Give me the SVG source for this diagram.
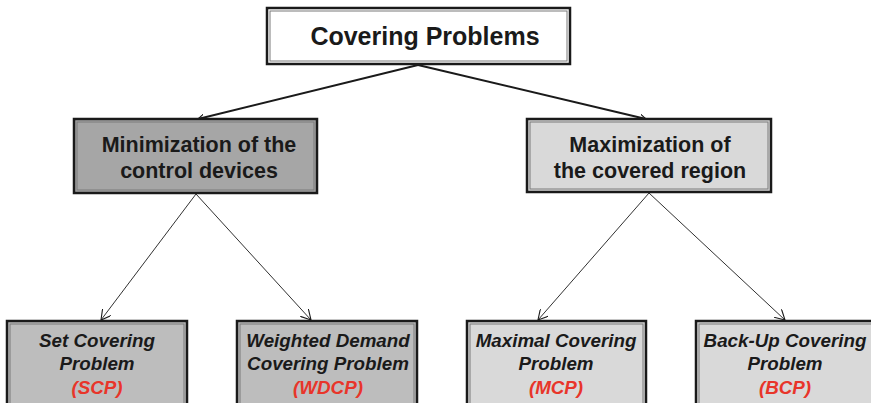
<svg xmlns="http://www.w3.org/2000/svg" width="871" height="403" viewBox="0 0 871 403">
<defs>
<style>
.outer{stroke:#1a1a1a;stroke-width:2.5}
.inner{fill:none;stroke:#7a7a7a;stroke-width:1}
.t{font-family:"Liberation Sans",Arial,sans-serif;font-weight:bold;fill:#1a1a1a;text-anchor:middle}
.h{font-size:25px}
.m{font-size:21.5px}
.s{font-size:18.8px;font-style:italic}
.r{fill:#e8352a}
.thick{stroke:#1a1a1a;stroke-width:2;fill:none}
.thin{stroke:#1a1a1a;stroke-width:0.9;fill:none}
</style>
<marker id="ah" viewBox="0 0 10 10" refX="9" refY="5" markerWidth="7" markerHeight="7" markerUnits="userSpaceOnUse" orient="auto"><path d="M0,0 L9,5 L0,10" fill="none" stroke="#1a1a1a" stroke-width="1.6"/></marker>
<marker id="ah2" viewBox="0 0 10 10" refX="9" refY="5" markerWidth="11" markerHeight="11" markerUnits="userSpaceOnUse" orient="auto"><path d="M0,0 L9,5 L0,10" fill="none" stroke="#1a1a1a" stroke-width="1"/></marker>
</defs>
<g id="connectors">
<line class="thick" x1="418" y1="65" x2="198" y2="119" marker-end="url(#ah)"/>
<line class="thick" x1="418" y1="65" x2="646" y2="119" marker-end="url(#ah)"/>
<line class="thin" x1="196" y1="194" x2="101" y2="320" marker-end="url(#ah2)"/>
<line class="thin" x1="196" y1="194" x2="311" y2="320" marker-end="url(#ah2)"/>
<line class="thin" x1="649" y1="193" x2="538" y2="320" marker-end="url(#ah2)"/>
<line class="thin" x1="649" y1="193" x2="785" y2="320" marker-end="url(#ah2)"/>
</g>
<g id="root">
<rect class="outer" x="267" y="8" width="303" height="56" fill="#ffffff"/>
<rect class="inner" x="270" y="11" width="297" height="50"/>
<text class="t h" x="425" y="45">Covering Problems</text>
</g>
<g id="minimization">
<rect class="outer" x="74" y="119" width="243" height="74" fill="#a6a6a6"/>
<rect class="inner" x="77" y="122" width="237" height="68"/>
<text class="t m" x="199" y="152">Minimization of the</text>
<text class="t m" x="199" y="178">control devices</text>
</g>
<g id="maximization">
<rect class="outer" x="527" y="119" width="244" height="73" fill="#d9d9d9"/>
<rect class="inner" x="530" y="122" width="238" height="67"/>
<text class="t m" x="650" y="152">Maximization of</text>
<text class="t m" x="650" y="178">the covered region</text>
</g>
<g id="scp">
<rect class="outer" x="7" y="321" width="180" height="90" fill="#bdbdbd"/>
<rect class="inner" x="10" y="324" width="174" height="84"/>
<text class="t s" x="97" y="347">Set Covering</text>
<text class="t s" x="97" y="370">Problem</text>
<text class="t s r" x="97" y="394">(SCP)</text>
</g>
<g id="wdcp">
<rect class="outer" x="237" y="321" width="180" height="90" fill="#bdbdbd"/>
<rect class="inner" x="240" y="324" width="174" height="84"/>
<text class="t s" x="328" y="347">Weighted Demand</text>
<text class="t s" x="328" y="370">Covering Problem</text>
<text class="t s r" x="328" y="394">(WDCP)</text>
</g>
<g id="mcp">
<rect class="outer" x="467" y="321" width="179" height="90" fill="#d9d9d9"/>
<rect class="inner" x="470" y="324" width="173" height="84"/>
<text class="t s" x="556" y="347">Maximal Covering</text>
<text class="t s" x="556" y="370">Problem</text>
<text class="t s r" x="556" y="394">(MCP)</text>
</g>
<g id="bcp">
<rect class="outer" x="696" y="321" width="180" height="90" fill="#d9d9d9"/>
<rect class="inner" x="699" y="324" width="174" height="84"/>
<text class="t s" x="785" y="347">Back-Up Covering</text>
<text class="t s" x="785" y="370">Problem</text>
<text class="t s r" x="785" y="394">(BCP)</text>
</g>
</svg>
